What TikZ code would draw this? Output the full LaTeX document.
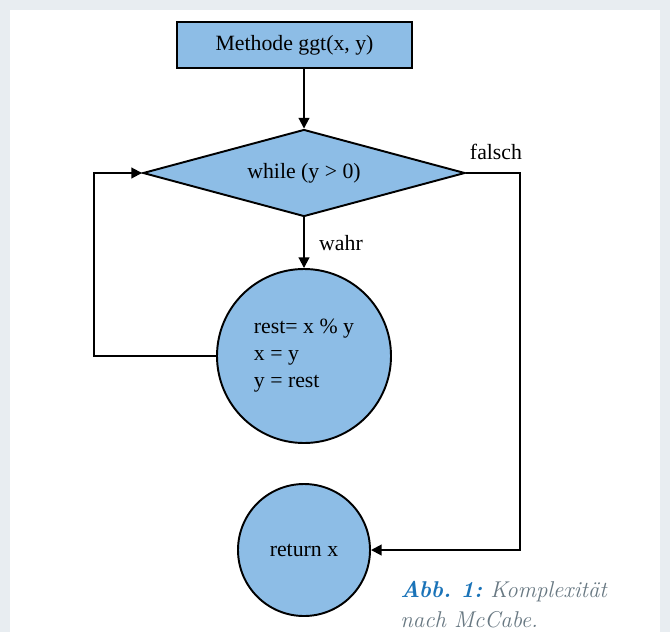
\documentclass[tikz,border=0pt]{standalone}
\usepackage{fontspec}
\newfontfamily\flowfont{Liberation Serif}
\usepackage{xcolor}
\usetikzlibrary{shapes.geometric, arrows.meta}
\definecolor{panelgray}{RGB}{232,237,241}
\definecolor{boxblue}{RGB}{141,189,230}
\definecolor{capblue}{RGB}{26,115,184}
\definecolor{capgray}{RGB}{104,120,130}

\tikzset{
    block/.style={draw=black, line width=1.1pt, fill=boxblue},
    flow/.style={line width=1.1pt, -{Triangle[length=6pt,width=6pt]}}
}

\begin{document}
\begin{tikzpicture}[font=\flowfont\fontsize{12.4}{15.4}\selectfont]

    % Gray frame with the white panel on top
    \fill[panelgray] (0,0) rectangle (13.4,-12.64);
    \fill[white] (0.2,-0.2) rectangle (13.2,-12.64);

    % Blocks of the flowchart
    \node[block, rectangle, minimum width=4.7cm, minimum height=0.92cm] (method) at (5.89,-0.9) {Methode ggt(x, y)};
    \node[block, diamond, aspect=3.7, minimum width=6.44cm, minimum height=1.74cm, inner sep=0pt] (cond) at (6.08,-3.46) {while (y > 0)};
    \node[block, circle, minimum size=3.48cm, align=left] (body) at (6.08,-7.12) {rest= x \% y\\x = y\\y = rest};
    \node[block, circle, minimum size=2.64cm] (ret) at (6.08,-11.0) {return x};

    % Branch labels
    \node (falsch) at (9.92,-3.04) {falsch};
    \node (wahr) at (6.82,-4.86) {wahr};

    % Corner points of the connectors
    \coordinate (fcorner) at (10.4,-3.46); % right turn of the false branch
    \coordinate (bcorner) at (1.88,-3.46); % left turn of the loop back

    % Connectors
    \draw[flow] (method.south -| cond.north) -- (cond.north);
    \draw[flow] (cond.south) -- (body.north);
    \draw[flow] (body.west) -| (bcorner) -- (cond.west);
    \draw[flow] (cond.east) -- (fcorner) |- (ret.east);

    % Caption
    \node[anchor=west, align=left, inner sep=0pt, text=capgray, font=\rmfamily\itshape\frenchspacing\fontsize{13}{17}\selectfont] (caption) at (8.0,-12.1) {{\bfseries\color{capblue}Abb. 1:} Komplexität\\nach McCabe.};
\end{tikzpicture}
\end{document}
